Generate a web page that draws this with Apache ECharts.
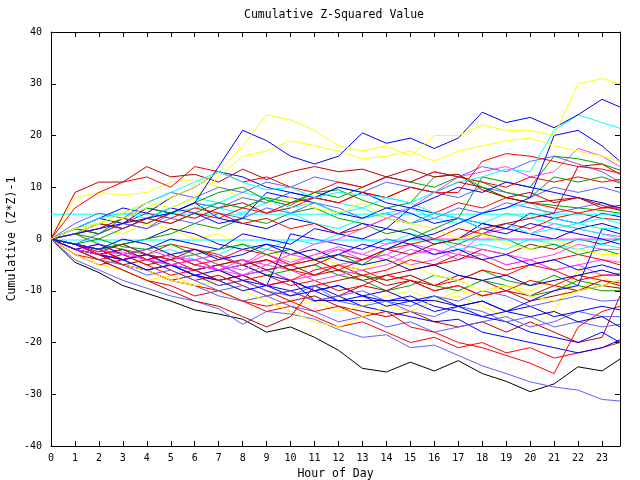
<!DOCTYPE html>
<html>
<head>
<meta charset="utf-8">
<script src="https://cdn.jsdelivr.net/npm/echarts/dist/echarts.min.js"></script>
<style>
  html, body { margin: 0; padding: 0; background: #fff; }
  #chart { width: 640px; height: 480px; }
</style>
</head>
<body>
<div id="chart"></div>
<script>
// sample times (hour of day)
const hours = [0, 1, 2, 3, 4, 5, 6, 7, 8, 9, 10, 11, 12, 13, 14, 15, 16, 17, 18, 19, 20, 21, 22, 23, 23.75]
const xTicks = [0, 1, 2, 3, 4, 5, 6, 7, 8, 9, 10, 11, 12, 13, 14, 15, 16, 17, 18, 19, 20, 21, 22, 23]
const yTicks = [-40, -30, -20, -10, 0, 10, 20, 30, 40]

// cumulative (z*z)-1 per station
const y1 = [0, 2, 3, 4, 6, 8, 10, 13, 18, 24, 23, 21, 18, 17, 18, 16, 20, 20, 22, 21, 21, 20, 30, 31, 30]
const y2 = [0, 1, 3, 5, 7, 6, 8, 12, 16, 17, 19, 18, 17, 15.5, 16, 17, 15, 17, 18, 19, 19.5, 18, 17, 16, 15]
const y3 = [0, 8, 9, 8.5, 9, 11, 11.5, 10, 8, 7, 8, 6, 5, 7, 4, 3, 2, 0, 1, -1, -2, 0, -2, -3, -3]
const y4 = [0, -2, -4, -5, -6, -8, -9, -8, -10, -12, -14, -16, -17, -15, -13, -14, -12, -10, -11, -9, -10, -8, -10, -7, -7]
const y5 = [0, -3, -5, -6, -8, -7, -9, -10, -12, -11, -13, -12, -14, -13, -11, -10, -12, -11, -13, -15, -17, -14, -6, -7, -9.9]
const y6 = [0, 1, 2, 1, 3, 2, 0, 1, -1, -2, -4, -3, -5, -6, -4, -5, -7, -8, -10, -9, -11, -12, -10, -9, -8]

const b1 = [0, 1, 2, 3, 4, 5, 7, 14, 21, 19, 16, 14.5, 16, 20.5, 18.5, 19.5, 17.5, 19.5, 24.5, 22.5, 23.5, 21.5, 24, 27, 25.5]
const b2 = [0, -1, -2, 0, -1, -3, -2, -4, -3, -1, -2, -4, -3, -1, -2, 0, 1, 3, 5, 6, 8, 20, 21, 18, 15]
const b3 = [0, -2, -1, -3, -2, 0, -1, -2, 1, 0, -1, 2, 1, 3, 2, 6, 5, 4, 3, 2, 5, 4, 3, 5, 4.3]
const b4 = [0, -1, -3, -4, -3, -5, -6, -5, -7, -9, -8, -10, -9, -11, -10, -12, -11, -13, -12, -14, -13, -15, -14, -13, -13.7]
const b5 = [0, -2, -3, -5, -6, -5, -7, -8, -7, -9, -10, -9, -11, -13, -14, -15, -16, -15.5, -18, -19, -20, -21, -22, -21, -19.5]
const b6 = [0, -1, -2, -4, -3, -5, -6, -8, -7, -6, -8, -10, -9, -11, -12, -11, -13, -14, -15, -16, -18, -19, -20, -18, -20]
const b8 = [0, -1, -3, -2, -4, -3, -5, -6, -5, -7, -8, -11.9, -11.9, -11.9, -11.9, -11.9, -11.9, -13, -12, -14, -15, -14, -16, -15, -17]
const b9 = [0, -2, -3, -4, -3, -5, -7, -6, -8, -9, 1, 0, -1, -2, 0, -1, -3, -2, -4, -3, -5, -4, -6, -5, -6]
const b10 = [0, 1, 3, 2, 4, 6, 5, 3, 4, 9, 8, 7, 5, 4, 6, 5, 3, 4, 2, 1, 3, 2, 1, 0, -1]
const b11 = [0, 2, 4, 6, 5, 8, 10, 13, 12, 10, 9, 8, 10, 9, 7, 6, 8, 10, 9, 11, 10, 9, 8, 7, 6]
const b12 = [0, -1, -3, -4, -6, -5, -7, -8, -10, -9, -11, -10, -12, -11, -13, -12, -14, -13, -15, -14, -12, -10, -9, 2, 1]
const db1 = [0, 2, 4, 3, 6, 5, 7, 4, 3, 2, 4, 3, 1, 0, 2, 1, -1, 0, 3, 2, 1, 0, 2, 3, 2]
const db2 = [0, -1, -2, -1, 0, 2, 1, -1, -2, -1, -3, -2, -4, -5, -4, -6, -5, -7, -8, -7, -9, -8, -7, -6, -7]

const c1 = [0, 2, 4, 5, 7, 9, 11, 13, 11, 9.5, 10, 8, 9, 8.5, 8, 7, 9, 11, 12, 13.5, 13, 21, 24, 22.5, 21.4]
const c2 = [0, 1, 2, 4, 3, 5, 6, 7, 6, 8, 5, 3, 2, 4, 5, 6, 4, 3, 5, 6, 7, 4, 3, 4, 3]
const c3 = [4.8, 4.8, 4.8, 4.8, 4.8, 4.8, 4.8, 4.8, 4.8, 4.8, 4.8, 4.8, 4.8, 4.8, 4.8, 4.8, 4.8, 4.8, 4.8, 4.8, 4.8, 4.8, 4.8, 4.8, 4.8]
const c4 = [-0.2, -0.2, -0.2, -0.2, -0.2, -0.2, -0.2, -0.2, -0.2, -0.2, -0.2, -0.2, -0.2, -0.2, -0.2, -0.2, -0.2, -0.2, -0.2, -0.2, -0.2, -0.2, -0.2, -0.2, -0.2]
const c5 = [0, -1, -2, -1, -3, -2, -4, -3, -1, -2, 0, -1, 1, 0, -1, 1, 0, -2, -1, -2, 0, -1, -2, -1, -1.7]
const c6 = [0, 2, 3, 5, 4, 6, 8, 7, 9, 8, 6, 7, 5, 6, 4, 3, 5, 4, 2, 3, 1, 2, 3, 2, 2]
const c7 = [0, 1, 3, 2, 4, 5, 7, 6, 5, 7, 9, 8, 7, 6, 8, 7, 5, 4, 3, 5, 4, 3, 2, 1, 0]

const r2 = [0, 1, 3, 2, 4, 3, 5, 4, 6, 5, 7, 8, 7, 9, 8, 10, 9, 9, 15, 16.5, 16, 15, 14, 13.5, 12.7]
const r3 = [0, 6, 9, 11, 12, 10, 14, 13, 11, 12, 10, 9, 11, 10, 12, 11, 13, 12, 11, 10, 12, 11, 12, 11, 11.5]
const r4 = [0, -1, -3, -2, -4, -3, -5, -4, -2, -3, -5, -4, -6, -4, -2, -1, 0, 2, 1, 3, 2, 4, 5, 4, 3.7]
const r5 = [0, -2, -4, -3, -5, -7, -6, -8, -7, -9, -8, -6, -5, -7, -6, -4, -5, -3, -4, -6, -5, -4, -3, -4, -5]
const r6 = [0, -1, -2, -4, -3, -5, -4, -6, -8, -7, -9, -8, -10, -9, -7, -8, -10, -9, -11, -10, -8, -9, -7, -8, -8.5]
const r7 = [0, -2, -3, -5, -6, -8, -9, -10, -12, -13, -12, -14, -13, -15, -14, -17, -18, -20, -21, -22.5, -24, -26, -17, -14, -13]
const r8 = [0, -3, -4, -6, -8, -9, -11, -10, -12, -14, -13, -15, -17, -16, -18, -20, -19, -21, -20, -22, -21, -23, -22, -21, -20]
const r9 = [0, 2, 1, 3, 5, 4, 6, 5, 3, 4, 2, 3, 1, 2, 4, 3, 5, 7, 6, 8, 7, 6, 5, 6, 6]
const r10 = [0, -1, -2, -4, -3, -1, -2, -3, -5, -4, -6, -7, -5, -6, -8, -7, -9, -8, -6, -7, -5, -6, -8, -7, -7]

const dr1 = [0, 9, 11, 11, 14, 12, 12.5, 11, 13.5, 11.5, 13, 14, 13, 13.5, 12, 13.5, 12, 12.5, 9.5, 8, 7, 7.5, 8, 6.5, 5.5]
const dr2 = [0, -1, -2.5, -1, -3, -4, -2, -3.5, -5, -4, -6, -5, -3, -4, -2, -3, -1, 0, 2, 3, 4, 5, 14, 14.5, 12.5]
const dr3 = [0, -2, -3, -5, -4, -6, -8, -7, -9, -11, -10, -12, -11, -9, -10, -8, -9, -7, -8, -10, -11, -9, -10, -8, -9]
const dr4 = [0, -3, -5, -4, -6, -8, -7, -9, -8, -10, -12, -11, -13, -14, -15, -14, -16, -17, -16, -18, -16, -18, -20, -19, -11]
const dr5 = [0, -2, -4, -6, -8, -10, -12, -13, -15, -17, -15, -9, -8, -7, -9, -8, -10, -9, -11, -10, -12, -11, -10, -9, -9.5]
const dr6 = [0, 1, 2, 4, 3, 5, 4, 6, 7, 5, 6, 8, 7, 9, 8, 10, 9, 11, 10, 8, 9, 7, 8, 6, 6.5]
const dr7 = [0, -1, -2, -3, -5, -4, -6, -5, -4, -6, -5, -7, -6, -8, -7, -6, -5, -4, -2, -3, -1, -2, 0, -1, 0]

const m1 = [0, -1, -2, -3, -2, -3.5, -4, -3, -5, -2, -3, -1, 0, 2, 4, 6, 9, 12, 13, 14, 12, 13, 17.5, 16, 14]
const m2 = [0, -2, -3, -2.5, -4, -5, -4, -6, -5, -3, -4.5, -3, -1.5, -3, -1, 0, 0, 0, 0, 0, 0, 0, 0, 0, 0]
const m3 = [0, -1, -3, -2, -4, -5, -6, -5, -7, -6, -8, -7, -5, -4, -3, -5, -4, -2, -3, -5, -4, -6, -5, -7, -6.6]
const m4 = [0, -2, -1, -3, -4, -3, -5, -6, -4, -5, -3, -4, -2, -3, -4, -2, -3, -1, -2, -3, -4, -3, -1, -2, -2]
const m5 = [0, -1, -2, -1, -3, -4, -3, -5, -6, -4, -5, -3, -2, -4, -3, -1, -2, -4, -3, -5, -4, -6, -5, -4, -4.5]
const m6 = [0, -1, -3, -4, -3, -5, -4, -6, -7, -5, -6, -8, -7, -6, -5, -3, -2, -3, 1, 2, 1, 3, 2, 1, 0.5]

const g1 = [0, -1, 0, -1.5, -2, -1, -3, -2, -1, -3, -2, -4, -3, -5, -2, 0, 2, 4, 12, 11, 10, 16, 15.5, 14.5, 13.3]
const g2 = [0, 2, 1, 4, 6, 5, 7, 9, 10, 7.5, 6.5, 9, 9.5, 7.5, 6, 7, 12, 12.5, 10, 8, 7, 6.5, 6, 5.5, 5]
const g3 = [0, 1, 0, 2, 4, 3, 5, 7, 6, 8, 7, 9, 8, 10, 12, 11, 10, 12, 11, 9, 8, 12, 11, 12, 10.8]
const g4 = [0, -1, -3, -2, -4, -5, -4, -6, -5, -7, -6, -5, -7, -8, -10, -9, -7, -8, -6, -8, -9, -7, -9, -10, -10]
const g5 = [0, -1, -2, -1, 0, 1, 3, 2, 4, 3, 5, 6, 4, 3, 1, 2, 0, -1, 1, 0, -2, -1, -3, -2, -3]
const g6 = [0, 1, -1, -2, -3, -4, -3, -5, -4, -6, -5, -4, -6, -7, -8, -7, -9, -10, -8, -9, -11, -10, -8, -9, -8]

const lb1 = [0, 3, 5, 4, 7, 9, 8, 10, 9, 11, 10, 12, 11, 10, 12, 11, 13, 12, 14, 13, 15, 16, 14.5, 13, 11]
const lb2 = [0, -1, 1, 3, 2, 5, 7, 6, 8, 7, 9, 8, 10, 9, 11, 10, 9, 8, 10, 9, 8, 10, 9, 10, 9]
const lb3 = [0, 2, 1, 3, 2, 4, 3, 5, 4, 6, 5, 7, 6, 4, 5, 3, 4, 6, 5, 7, 6, 5, 6, 7, 5.6]
const lb4 = [0, -2, -4, -5, -7, -6, -8, -10, -9, -11, -10, -12, -11, -10, -12, -13, -11, -12, -10, -11, -13, -12, -11, -12, -11.8]
const lb5 = [0, -2, -3, -5, -6, -8, -9, -11, -12, -11, -13, -14, -16, -15, -17, -16, -18, -17, -16, -15, -17, -16, -14, -15, -15]
const lb6 = [0, -4, -6, -8, -9.5, -11, -12, -13.5, -16.5, -14, -14.5, -15.5, -17.5, -19, -18.5, -21, -20.5, -22.5, -24.5, -26, -27.6, -28.6, -29.2, -31, -31.3]
const lb7 = [0, -1, -3, -4, -6, -5, -7, -9, -8, -10, -11, -9, -12, -13, -12, -14, -15, -13, -14, -16, -15, -17, -16, -17, -16.5]

const k1 = [0, -4.5, -6.5, -9, -10.5, -12, -13.7, -14.5, -15.5, -18, -17, -19, -21.5, -25, -25.7, -23.8, -25.5, -23.5, -26, -27.5, -29.5, -28, -24.7, -25.5, -23.2]

const RED = '#ff0000'
const DKRED = '#c00000'
const BLUE = '#0000ff'
const DKBLUE = '#0000c0'
const LTBLUE = '#6060ff'
const YELLOW = '#ffff00'
const CYAN = '#00ffff'
const GREEN = '#00a000'
const MAGENTA = '#ff40ff'
const BLACK = '#000000'

const lines = [
  [k1, BLACK], [lb6, LTBLUE], [r8, RED], [dr4, DKRED], [b5, BLUE], [y5, YELLOW],
  [lb5, LTBLUE], [r7, RED], [b6, BLUE], [y4, YELLOW], [dr5, DKRED], [lb7, LTBLUE],
  [g4, GREEN], [b4, BLUE], [m3, MAGENTA], [dr3, DKRED], [r6, RED], [lb4, LTBLUE],
  [b8, DKBLUE], [g6, GREEN], [m5, MAGENTA], [r10, RED], [y6, YELLOW], [b12, BLUE],
  [dr7, DKRED], [m4, MAGENTA], [c5, CYAN], [r5, RED], [db2, DKBLUE], [m6, MAGENTA],
  [g5, GREEN], [b9, BLUE], [c4, CYAN], [m2, MAGENTA], [r4, RED], [b3, BLUE],
  [c7, CYAN], [db1, DKBLUE], [c3, CYAN], [lb3, LTBLUE], [c2, CYAN], [r9, RED],
  [dr6, DKRED], [b10, BLUE], [c6, CYAN], [dr2, DKRED], [y3, YELLOW], [lb2, LTBLUE],
  [g2, GREEN], [m1, MAGENTA], [g1, GREEN], [g3, GREEN], [b11, BLUE], [lb1, LTBLUE],
  [r2, RED], [r3, RED], [dr1, DKRED], [c1, CYAN], [b2, BLUE], [y2, YELLOW],
  [b1, BLUE], [y1, YELLOW]
]

const FONT = 'DejaVu Sans Mono'

function getOptions() {
  const series = lines.map(([vals, color]) => ({
    type: 'line',
    data: hours.map((h, i) => [h, vals[i]]),
    showSymbol: false,
    symbol: 'none',
    silent: true,
    lineStyle: { color: color, width: 1 },
    z: 2
  }))

  const xBase = {
    type: 'value',
    min: 0,
    max: 23.75,
    interval: 1,
    splitLine: { show: false },
    axisLine: { show: true, onZero: false, lineStyle: { color: '#000', width: 1 } },
    axisTick: { show: true, inside: true, length: 5, lineStyle: { color: '#000' } }
  }
  const yBase = {
    type: 'value',
    min: -40,
    max: 40,
    interval: 10,
    splitLine: { show: false },
    axisLine: { show: true, onZero: false, lineStyle: { color: '#000', width: 1 } },
    axisTick: { show: true, inside: true, length: 5, lineStyle: { color: '#000' } }
  }

  return {
    animation: false,
    backgroundColor: '#fff',
    title: {
      text: 'Cumulative Z-Squared Value',
      left: 244,
      top: 9,
      padding: 0,
      textStyle: { fontFamily: FONT, fontSize: 11.5, fontWeight: 'normal', color: '#000' }
    },
    // fixed plot box, no auto-fitting of labels
    grid: { left: 51, right: 20, top: 32, bottom: 34, containLabel: false, outerBoundsMode: 'none' },
    xAxis: [
      Object.assign({}, xBase, {
        position: 'bottom',
        name: 'Hour of Day',
        nameLocation: 'middle',
        nameGap: 22,
        nameMoveOverlap: false,
        nameTextStyle: { fontFamily: FONT, fontSize: 11.5, color: '#000' },
        axisLabel: {
          fontFamily: FONT, fontSize: 10, color: '#000', margin: 7,
          showMaxLabel: false,
          formatter: v => (xTicks.indexOf(v) >= 0 ? String(v) : '')
        }
      }),
      Object.assign({}, xBase, { position: 'top', axisLabel: { show: false } })
    ],
    yAxis: [
      Object.assign({}, yBase, {
        position: 'left',
        name: 'Cumulative (Z*Z)-1',
        nameLocation: 'middle',
        nameGap: 33,
        nameRotate: 90,
        nameMoveOverlap: false,
        nameTextStyle: { fontFamily: FONT, fontSize: 11.5, color: '#000' },
        axisLabel: {
          fontFamily: FONT, fontSize: 10, color: '#000', margin: 9,
          formatter: v => (yTicks.indexOf(v) >= 0 ? String(v) : '')
        }
      }),
      Object.assign({}, yBase, { position: 'right', axisLabel: { show: false } })
    ],
    series: series
  }
}

const chart = echarts.init(document.getElementById('chart'), null, { renderer: 'canvas' })
chart.setOption(getOptions())
</script>
</body>
</html>
